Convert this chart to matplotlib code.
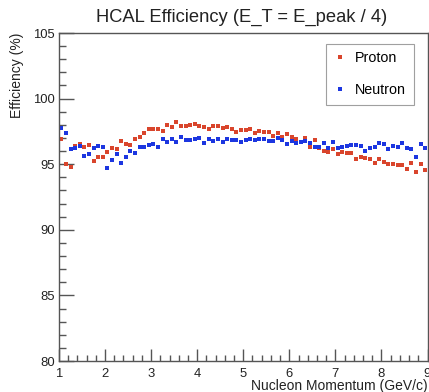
import numpy as np
import matplotlib.pyplot as plt
from matplotlib.ticker import MultipleLocator

plt.rcParams['font.family'] = ['Liberation Sans', 'DejaVu Sans']

# momentum bins (GeV/c), 0.1 wide from 1 to 9
momentum = np.round(np.arange(1.05, 9.0, 0.1), 2)

proton_eff = [
    96.90, 95.05, 94.80, 96.39, 96.54, 96.29, 96.44, 95.24, 95.57, 95.57,
    95.93, 96.25, 96.13, 96.74, 96.54, 96.49, 96.90, 97.10, 97.35, 97.66,
    97.65, 97.66, 97.55, 97.99, 97.85, 98.18, 97.93, 97.93, 97.98, 98.05,
    97.92, 97.86, 97.66, 97.93, 97.92, 97.73, 97.86, 97.66, 97.43, 97.61,
    97.62, 97.66, 97.36, 97.53, 97.46, 97.48, 97.15, 97.36, 97.05, 97.27,
    97.08, 96.93, 96.71, 97.01, 96.34, 96.86, 96.26, 96.00, 95.95, 96.14,
    95.75, 95.95, 95.83, 95.88, 95.38, 95.53, 95.45, 95.42, 95.11, 95.40,
    95.20, 95.05, 94.98, 94.94, 94.94, 94.60, 95.11, 94.40, 94.99, 94.58,
]

neutron_eff = [
    97.73, 97.40, 96.13, 96.26, 96.38, 95.62, 95.78, 96.23, 96.38, 96.34,
    94.73, 95.32, 95.78, 95.12, 95.53, 96.03, 95.88, 96.29, 96.34, 96.44,
    96.55, 96.34, 96.92, 96.70, 96.92, 96.72, 97.08, 96.87, 96.87, 96.92,
    97.00, 96.59, 96.92, 96.77, 96.92, 96.72, 96.92, 96.87, 96.87, 96.70,
    96.84, 96.95, 96.87, 96.91, 96.91, 96.78, 96.78, 97.01, 96.87, 96.52,
    96.78, 96.62, 96.72, 96.79, 96.59, 96.29, 96.29, 96.59, 96.21, 96.67,
    96.21, 96.33, 96.41, 96.46, 96.49, 96.39, 96.01, 96.21, 96.29, 96.64,
    96.52, 96.14, 96.41, 96.29, 96.59, 96.21, 96.14, 95.57, 96.54, 96.21,
]

fig = plt.figure(figsize=(4.29, 3.92), dpi=100)
ax = fig.add_axes([59 / 429, 31 / 392, 368.5 / 429, 328 / 392])

ax.plot(momentum, proton_eff, 's', color='#d9452c', markersize=2.3,
        markeredgewidth=0, label='Proton')
ax.plot(momentum, neutron_eff, 's', color='#1c36e0', markersize=2.3,
        markeredgewidth=0, label='Neutron')

ax.set_xlim(1, 9)
ax.set_ylim(80, 105)

# ROOT-like frame: ticks inside, left and bottom only
frame_color = '#555555'
for side in ax.spines.values():
    side.set_color(frame_color)
    side.set_linewidth(1.0)
ax.xaxis.set_major_locator(MultipleLocator(1))
ax.xaxis.set_minor_locator(MultipleLocator(0.2))
ax.yaxis.set_major_locator(MultipleLocator(5))
ax.yaxis.set_minor_locator(MultipleLocator(1))
ax.tick_params(which='both', direction='in', color=frame_color, width=1.0,
               top=False, right=False, labelsize=9.4, labelcolor='#222222')
ax.tick_params(axis='x', which='major', length=9, pad=5)
ax.tick_params(axis='x', which='minor', length=4.5)
ax.tick_params(axis='y', which='major', length=11, pad=3)
ax.tick_params(axis='y', which='minor', length=5)

fig.text(242 / 429, 1 - 17 / 392, 'HCAL Efficiency (E_T = E_peak / 4)',
         ha='center', va='center', fontsize=13.2, color='#222222')
fig.text(427.5 / 429, 1 - 386 / 392, 'Nucleon Momentum (GeV/c)',
         ha='right', va='center', fontsize=10, color='#222222')
fig.text(17.5 / 429, 1 - 33 / 392, 'Efficiency (%)', rotation=90,
         ha='center', va='top', fontsize=10, color='#222222')

leg = ax.legend(loc='upper left', bbox_to_anchor=(326 / 429, 1 - 43.5 / 392),
                bbox_transform=fig.transFigure, fontsize=10.3, frameon=True,
                fancybox=False, edgecolor='#888888', borderpad=0.55,
                labelspacing=1.25, handlelength=0.9, handletextpad=0.6,
                borderaxespad=0, markerscale=1.1, numpoints=1)
leg.get_frame().set_linewidth(0.8)

fig.savefig('out.png', dpi=100)
